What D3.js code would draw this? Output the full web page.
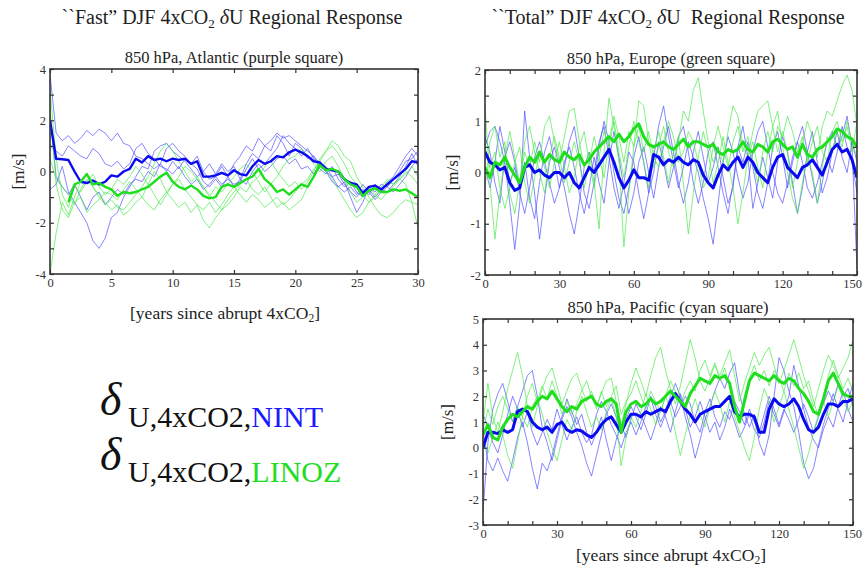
<!DOCTYPE html>
<html>
<head>
<meta charset="utf-8">
<script src="https://cdn.jsdelivr.net/npm/d3@7"></script>
<style>
  html,body{margin:0;padding:0;background:#fff;}
  svg{display:block;font-family:"Liberation Serif","Times New Roman",serif;}
  .tick text{font-family:"Liberation Serif",serif;font-size:12.5px;fill:#333;}
</style>
</head>
<body>
<svg id="chart" width="863" height="569"></svg>
<script>
// ---------------- DATA ----------------
// "Fast" panel: sampled every 0.5 yr from 0 to 30
const yearsFast = d3.range(0, 30.25, 0.5);
const atlBlueMean = [2.0,0.5,0.48,0.45,0.0,-0.4,-0.45,-0.35,-0.5,-0.4,
 -0.15,-0.2,0.0,0.1,0.5,0.35,0.6,0.45,0.5,0.4,
 0.5,0.45,0.5,0.3,0.4,-0.2,-0.2,-0.15,-0.05,-0.15,
 0.05,-0.1,-0.15,0.2,0.45,0.3,0.4,0.6,0.55,0.75,
 0.85,0.75,0.6,0.4,0.35,0.1,0.05,0.0,-0.3,-0.45,
 -0.5,-0.85,-0.6,-0.55,-0.7,-0.5,-0.3,-0.1,0.1,0.4,
 0.35];
const atlGreenMean = [null,null,null,-1.2,-0.5,-0.4,-0.1,-0.5,-0.45,-0.6,
 -0.7,-0.95,-0.8,-0.85,-0.8,-0.7,-0.6,-0.4,-0.2,-0.05,
 -0.4,-0.6,-0.7,-0.55,-0.7,-0.95,-1.05,-1.0,-0.6,-0.5,
 -0.6,-0.45,-0.3,-0.2,0.1,-0.3,-0.5,-0.8,-0.7,-0.9,
 -0.7,-0.5,-0.6,-0.2,0.25,0.05,0.1,0.0,-0.3,-0.5,
 -0.6,-0.95,-0.75,-0.65,-0.8,-0.8,-0.7,-0.75,-0.7,-0.85,
 -1.0];
const atlBlue1 = [3.8,1.5,1.2,1.4,1.1,1.3,1.6,1.4,1.65,1.5,
 1.2,1.5,1.1,1.0,0.6,0.5,0.3,0.1,0.3,0.9,
 1.1,0.8,0.6,0.3,0.1,-0.4,-0.6,-0.3,-0.6,-0.2,
 0.3,0.6,1.0,0.8,1.3,1.0,1.2,1.5,1.3,1.4,
 1.2,1.0,0.8,0.6,0.3,0.2,-0.2,-0.1,-0.5,-0.8,
 -1.0,-0.7,-0.9,-0.5,-0.8,-0.4,-0.2,0.2,0.6,0.9,
 0.6];
const atlBlue2 = [-0.7,-0.5,0.2,-0.8,-1.2,-1.6,-2.0,-2.7,-3.0,-2.6,
 -1.8,-1.6,-1.0,-0.6,-0.2,0.2,0.1,0.8,1.0,1.1,
 0.8,0.6,0.4,0.1,-0.2,0.0,-0.3,-0.2,-0.5,-0.3,
 -0.5,-0.4,0.1,0.5,0.1,0.3,0.6,0.9,1.4,1.1,
 0.9,0.6,0.9,0.5,0.2,0.0,-0.4,-0.6,-0.4,-1.0,
 -1.6,-1.2,-0.6,-0.8,-0.5,-0.6,-0.3,0.0,0.4,0.5,
 0.8];
const atlBlue3 = [1.0,0.8,0.6,1.0,0.8,0.6,0.5,0.9,0.7,0.3,
 0.2,0.4,0.1,0.3,0.9,1.1,0.7,0.5,0.2,0.1,
 -0.1,0.2,-0.2,-0.5,-0.3,-0.7,-0.5,-0.2,0.2,-0.2,
 -0.6,-0.3,0.3,0.7,0.5,1.0,0.8,1.4,1.1,0.6,
 1.1,0.9,0.5,0.6,0.1,-0.1,0.2,-0.3,-0.6,-0.4,
 -0.8,-1.0,-0.7,-1.0,-0.7,-0.8,-0.5,-0.2,0.2,0.7,
 0.2];
const atlBlue4 = [2.2,-0.2,-0.6,-0.9,-0.5,-1.0,-1.5,-1.0,-0.8,-1.3,
 -1.0,-0.7,-0.9,-0.5,-0.3,-0.4,0.0,-0.2,0.3,0.0,
 0.4,0.1,0.5,0.3,0.6,0.0,0.3,-0.1,0.3,0.0,
 0.2,-0.3,-0.5,0.0,0.3,0.0,0.2,0.5,0.6,0.3,
 0.5,0.1,0.2,-0.1,0.3,0.0,-0.2,-0.6,-0.8,-0.6,
 -0.9,-0.5,-0.8,-1.1,-0.8,-0.6,-0.8,-0.5,-0.2,0.2,
 0.5];
const atlGreen1 = [-4.0,-2.4,-1.2,-1.7,-1.0,-0.4,-0.1,-0.6,-0.9,-1.2,
 -1.5,-1.3,-1.7,-1.5,-1.2,-1.0,-0.5,0.0,-0.3,-0.8,
 -1.1,-1.4,-1.2,-1.6,-1.3,-1.9,-2.2,-1.8,-1.5,-1.1,
 -0.8,-0.5,-0.3,-0.7,-0.9,-0.6,-1.0,-1.4,-1.2,-1.5,
 -1.3,-1.1,-0.6,-0.2,0.4,0.8,1.0,0.7,0.3,-0.2,
 -0.5,-0.9,-1.2,-1.0,-0.7,-0.4,-0.5,-0.3,-0.5,-1.2,
 -2.2];
const atlGreen2 = [3.2,0.5,-0.9,-1.4,-0.6,-0.8,-0.4,-0.1,-0.6,-0.9,
 -0.7,-0.3,-0.5,-0.2,0.2,-0.1,-0.5,-0.9,-1.3,-0.9,
 -0.5,-0.2,0.2,0.0,-0.3,-0.6,-0.9,-1.2,-1.5,-1.3,
 -1.0,-0.6,-0.8,-0.4,-0.2,0.2,0.4,0.0,-0.3,-0.6,
 -0.4,-0.7,-0.4,0.0,0.5,0.8,1.2,1.0,0.6,0.4,
 -0.2,-0.6,-1.0,-1.4,-1.7,-1.8,-1.6,-1.3,-1.1,-1.2,
 -1.3];
const atlGreen3 = [0.5,-0.3,-0.6,-0.9,-1.3,-0.7,-0.3,-0.6,-1.0,-1.3,
 -1.1,-1.4,-1.5,-1.2,-0.9,-0.6,-0.2,0.3,0.8,1.1,
 0.8,0.4,0.0,-0.4,-0.2,-0.6,-1.0,-0.6,-0.8,-0.5,
 -0.2,0.1,0.3,0.0,-0.4,-0.8,-0.5,-0.2,0.2,0.5,
 0.6,0.9,0.6,0.3,0.0,0.4,0.6,0.2,-0.3,-0.8,
 -1.2,-1.0,-0.6,-0.9,-0.6,-0.3,-0.5,-0.3,0.0,-0.2,
 -0.5];
const atlGreen4 = [2.5,-0.5,-1.5,-1.8,-1.2,-1.0,-1.6,-1.3,-1.1,-0.8,
 -0.9,-1.1,-0.7,-0.4,-0.7,-1.0,-1.3,-1.5,-1.1,-0.8,
 -0.5,-0.3,-0.7,-1.0,-1.3,-1.5,-1.2,-1.6,-1.3,-0.9,
 -0.6,-0.9,-1.2,-0.9,-1.1,-1.4,-1.2,-1.0,-1.3,-1.1,
 -0.8,-0.5,-0.3,0.1,0.3,0.0,-0.3,-0.7,-1.1,-1.5,
 -1.8,-1.6,-1.2,-0.9,-1.1,-0.8,-0.6,-0.3,-0.1,0.2,
 -0.2];

// "Total" panels: sampled every 2 yr from 0 to 150
const yearsTotal = d3.range(0, 151, 2);
const eurBlueMean = [0.4,0.2,0.15,0.05,0.1,-0.2,-0.35,-0.3,0.1,0.15,
 0.0,0.05,-0.05,-0.1,0.0,0.0,-0.1,0.0,-0.2,-0.3,
 -0.1,0.1,0.0,0.15,0.3,0.45,0.2,-0.1,-0.3,-0.15,
 0.05,-0.1,-0.1,-0.15,0.35,0.3,0.15,0.25,0.2,0.3,
 0.2,0.15,0.25,0.2,-0.05,-0.2,-0.3,-0.05,0.15,0.05,
 0.2,0.3,0.1,0.3,0.2,0.0,-0.1,-0.2,0.1,0.3,
 0.35,0.1,0.0,-0.1,0.1,0.15,0.25,0.1,-0.05,0.2,
 0.45,0.55,0.4,0.45,0.25,-0.1];
const eurGreenMean = [0.1,-0.1,0.2,0.15,0.3,0.1,-0.05,-0.2,0.1,0.3,
 0.2,0.4,0.2,0.35,0.25,0.2,0.4,0.3,0.25,0.35,
 0.15,0.25,0.4,0.5,0.6,0.7,0.6,0.75,0.6,0.7,
 0.85,0.95,0.7,0.55,0.5,0.55,0.6,0.5,0.45,0.55,
 0.65,0.5,0.6,0.6,0.55,0.5,0.55,0.4,0.35,0.45,
 0.4,0.45,0.6,0.45,0.4,0.55,0.5,0.4,0.6,0.65,
 0.55,0.45,0.5,0.3,0.55,0.35,0.3,0.45,0.5,0.6,
 0.7,0.85,0.8,0.7,0.65,0.5];
const eurBlue1 = [0.5,0.8,0.9,0.6,0.2,-0.6,-1.5,-0.6,1.2,0.3,
 -0.4,-1.3,-0.5,0.2,0.5,0.1,-0.3,-0.8,-1.2,-0.6,
 0.1,0.4,0.0,0.6,0.9,0.3,-0.3,-0.7,-0.2,0.4,
 0.2,-0.4,-0.9,-0.4,0.3,0.9,1.3,0.7,0.2,-0.3,
 0.1,0.6,0.3,0.0,-0.5,-0.9,-1.4,-0.6,0.2,0.7,
 0.4,-0.1,-0.5,-0.2,0.4,0.8,1.0,0.5,0.0,-0.4,
 -0.6,-0.2,0.3,0.6,0.2,-0.3,-0.5,-0.2,0.2,0.6,
 0.8,0.5,0.7,1.1,0.5,-1.9];
const eurBlue2 = [0.1,-0.3,0.2,0.9,0.4,-0.2,0.1,-0.4,-0.8,-0.3,
 0.3,0.6,0.2,-0.2,-0.6,-0.3,0.2,0.5,0.1,-0.4,
 -0.8,-0.3,0.3,-0.2,-0.6,0.2,0.8,0.3,-0.3,-0.8,
 -0.4,0.2,0.5,0.0,-0.5,0.1,0.5,0.9,0.4,-0.2,
 -0.6,-0.2,0.4,0.8,0.3,-0.2,0.1,0.5,-0.1,-0.6,
 -0.3,0.5,0.9,0.3,-0.7,-0.2,0.3,-0.1,-0.5,0.2,
 0.7,0.4,-0.2,-0.8,-0.3,0.4,0.8,0.2,-0.4,-0.1,
 0.4,0.8,0.3,0.0,0.6,0.2];
const eurBlue3 = [0.7,0.4,-0.2,-0.6,0.3,0.6,0.2,-0.3,0.2,-0.5,
 -0.9,-0.2,0.4,0.7,0.2,-0.3,0.1,0.6,0.9,0.3,
 -0.4,-0.7,-0.2,0.5,1.0,0.6,0.0,-0.5,-0.8,-0.3,
 0.3,0.7,0.2,-0.4,0.0,0.6,0.2,-0.3,0.1,0.7,
 0.9,0.4,-0.2,-0.6,-0.2,0.4,0.6,0.1,-0.4,-0.8,
 -0.2,0.5,0.2,0.6,0.1,-0.4,-0.7,-0.2,0.5,0.8,
 0.3,-0.3,0.2,0.6,0.9,0.4,-0.1,-0.6,-0.2,0.3,
 0.0,0.4,0.9,0.5,0.2,-0.4];
const eurGreen1 = [1.3,-0.2,-1.3,-0.4,0.3,0.8,0.3,-0.2,0.4,0.1,
 0.6,0.2,0.9,1.1,0.6,0.2,0.7,1.2,1.25,0.6,
 0.1,0.4,-0.2,-1.1,0.4,1.45,0.9,0.2,-1.45,-0.4,
 0.5,1.4,1.3,0.6,0.1,0.5,0.9,0.4,0.1,0.6,
 1.2,1.0,1.6,1.85,1.2,0.6,0.2,0.5,0.2,0.8,
 1.3,1.1,0.5,0.3,0.8,1.2,1.3,1.4,0.9,0.4,
 0.8,0.4,-0.3,0.2,0.6,1.0,0.7,0.3,0.9,1.2,
 1.1,1.4,1.7,1.9,1.6,0.9];
const eurGreen2 = [0.5,0.1,0.4,-0.3,-0.7,-0.3,0.2,0.5,-0.2,-0.6,
 -0.1,0.4,0.1,-0.3,0.2,0.6,0.1,-0.4,-0.1,0.5,
 0.8,0.2,-0.3,0.3,0.8,0.5,1.0,0.4,-0.1,0.5,
 1.0,0.6,0.2,-0.3,0.4,0.8,0.3,-0.2,0.4,0.7,
 -0.2,-1.2,-0.4,0.3,0.8,0.4,-0.2,0.2,0.7,0.2,
 -0.3,-1.0,-0.4,0.3,0.6,0.1,-0.3,0.4,0.9,1.2,
 0.5,0.0,-0.5,-0.8,-0.2,0.3,0.0,-0.6,0.1,0.7,
 0.4,0.8,0.5,1.0,0.6,0.3];
const eurGreen3 = [-0.3,0.6,0.9,0.3,0.6,-0.4,-0.8,-0.2,0.6,0.9,
 0.4,0.0,-0.4,0.3,0.7,0.3,-0.2,0.2,0.6,0.2,
 -0.3,0.2,0.7,0.3,-0.1,0.6,1.1,0.7,0.2,0.8,
 0.5,0.9,0.4,0.8,0.3,0.1,0.6,1.0,0.7,0.2,
 0.4,0.8,0.6,0.2,-0.3,-0.1,0.5,0.9,0.5,0.1,
 0.6,0.9,0.4,0.7,0.2,-0.2,0.4,0.8,0.4,0.9,
 0.7,1.1,0.8,0.4,0.7,0.2,0.6,0.9,0.4,0.2,
 0.8,1.0,0.6,0.9,0.4,1.0];

const pacBlueMean = [0.0,0.6,0.6,0.55,0.7,0.6,0.7,1.4,1.5,1.4,
 1.0,0.8,0.7,0.8,0.6,0.9,1.0,0.7,0.6,0.7,
 0.65,0.5,0.4,0.6,0.9,1.1,1.2,0.9,0.6,1.0,
 1.3,1.3,1.2,1.4,1.3,1.4,1.5,1.4,1.8,2.1,
 1.8,1.5,1.3,1.0,1.3,1.4,1.5,1.6,1.6,1.8,
 2.0,1.4,1.2,1.3,1.3,1.2,0.6,0.6,1.5,1.9,
 1.7,1.6,1.7,1.9,1.6,1.1,0.7,0.6,0.8,1.3,
 1.7,1.7,1.6,1.8,1.8,1.9];
const pacGreenMean = [0.5,0.9,0.4,0.3,0.8,1.1,1.3,1.2,1.4,1.6,
 1.5,1.8,2.0,1.9,2.2,1.9,1.6,1.4,1.6,1.5,
 1.8,1.9,2.0,1.7,1.6,1.8,1.9,1.7,0.6,1.4,
 1.7,1.8,1.6,1.7,1.9,1.7,1.8,2.0,2.2,2.0,
 1.8,1.6,2.1,2.4,2.7,2.6,2.5,2.8,2.7,2.8,
 2.5,1.6,1.0,1.8,2.6,2.9,2.8,2.7,2.6,2.8,
 2.6,2.5,2.7,2.6,2.3,2.1,1.8,1.4,1.3,1.9,
 2.6,2.9,2.5,2.1,2.0,2.0];
const pacBlue1 = [-2.5,0.2,1.5,2.1,2.5,1.8,1.0,1.6,2.2,2.8,
 3.0,2.0,0.8,0.2,-0.5,0.3,1.1,1.6,1.2,0.6,
 0.1,-0.6,-1.1,-0.3,0.5,1.3,1.7,1.2,0.6,1.1,
 1.6,1.2,0.7,1.3,2.0,1.6,1.0,1.4,2.0,2.5,
 2.0,1.2,0.5,-0.4,0.3,1.1,1.6,2.2,2.7,2.3,
 2.9,3.3,2.1,1.3,0.8,1.3,0.2,-0.3,0.5,2.0,
 3.5,3.0,2.2,1.6,0.6,-0.6,-1.2,-0.8,0.1,0.9,
 1.5,2.1,1.5,1.0,1.8,2.5];
const pacBlue2 = [0.6,-0.5,-0.9,-0.4,-0.9,-1.3,-0.5,0.4,1.0,0.2,
 -0.8,-1.6,-0.6,-0.9,-0.3,0.5,1.2,1.9,1.4,0.9,
 1.3,0.6,0.1,0.6,1.2,0.3,-0.5,0.3,0.9,0.4,
 1.1,1.7,1.3,0.8,0.3,0.9,1.6,1.2,0.6,1.4,
 2.1,1.5,0.8,1.2,1.8,1.2,0.6,1.0,0.3,0.8,
 1.5,1.0,0.4,0.8,1.3,0.7,0.4,1.0,1.8,1.3,
 0.8,1.4,2.0,3.2,2.4,1.5,0.8,0.3,0.0,0.7,
 1.2,0.8,1.6,2.2,1.5,1.0];
const pacBlue3 = [1.3,0.8,0.2,-0.2,0.5,1.3,2.0,1.5,0.8,1.4,
 0.6,0.1,0.6,1.1,0.7,1.5,0.9,0.3,0.8,1.2,
 0.6,0.2,0.5,1.3,1.8,1.4,0.9,0.5,0.0,0.6,
 1.0,0.5,1.0,1.6,1.9,1.3,0.8,1.3,1.8,1.2,
 1.6,2.0,1.7,1.0,0.6,1.4,1.9,1.2,0.8,1.4,
 1.1,1.8,1.4,0.9,1.5,1.0,0.6,1.3,2.0,1.5,
 0.9,1.5,1.1,0.6,1.1,1.7,1.2,0.6,1.2,1.7,
 2.2,1.8,2.5,2.0,2.3,1.6];
const pacGreen1 = [1.0,2.5,1.2,0.6,1.4,2.3,3.0,3.7,2.8,1.6,
 0.8,1.6,2.3,2.8,3.1,2.4,1.7,2.2,2.7,2.9,
 2.3,1.8,2.2,1.6,2.1,2.6,2.7,1.8,0.9,1.7,
 2.5,3.1,2.6,2.0,2.8,3.5,3.9,3.0,2.3,1.7,
 2.4,3.3,4.2,3.5,2.6,2.2,2.7,3.2,2.8,3.3,
 3.8,2.8,1.8,2.5,3.1,3.7,3.2,3.6,3.9,3.2,
 2.5,3.0,3.6,4.2,3.5,2.8,2.2,1.6,2.3,3.0,
 3.6,3.2,2.7,3.1,3.5,4.2];
const pacGreen2 = [0.3,-0.2,0.4,1.0,0.5,-0.3,-0.8,0.2,1.2,0.8,
 1.6,2.0,1.3,0.6,0.0,-0.5,0.3,1.1,0.7,1.4,
 2.0,1.4,0.8,1.2,0.7,1.4,1.9,1.2,-0.7,0.4,
 1.2,0.8,1.4,2.1,1.5,0.9,1.4,2.0,1.5,0.6,
 -0.3,0.5,1.3,1.9,1.3,0.8,1.6,2.2,1.7,1.0,
 1.8,1.2,0.6,0.0,-0.5,0.4,1.5,2.3,1.8,1.0,
 1.6,2.2,1.5,0.8,0.0,-0.8,-0.2,0.6,1.3,1.8,
 1.2,1.8,2.4,1.9,1.4,1.8];
const pacGreen3 = [0.7,1.5,0.9,1.6,2.0,1.5,1.0,1.6,1.2,2.0,
 2.5,1.8,2.4,1.9,2.6,2.0,1.3,1.8,1.3,1.7,
 2.2,2.6,2.0,1.5,2.2,1.6,2.0,2.4,1.3,1.8,
 2.1,2.6,2.0,1.5,2.2,1.8,1.4,2.0,2.6,2.2,
 1.7,2.2,2.6,2.2,3.0,3.4,2.8,3.3,2.6,3.1,
 2.4,1.6,1.2,2.0,2.7,3.2,2.6,3.0,2.4,3.0,
 2.7,2.2,2.9,2.4,2.9,2.3,2.6,1.8,1.2,2.0,
 2.8,3.4,2.8,2.3,2.7,2.2];

// tick values
const fastXTicks = [0,5,10,15,20,25,30];
const atlYTicks = [-4,-3,-2,-1,0,1,2,3,4];
const atlYLabels = [-4,-2,0,2,4];
const totalXTicks = d3.range(0, 151, 10);
const totalXLabels = [0,30,60,90,120,150];
const eurYTicks = [-2,-1.5,-1,-0.5,0,0.5,1,1.5,2];
const eurYLabels = [-2,-1,0,1,2];
const pacYTicks = [-3,-2,-1,0,1,2,3,4,5];
const pacYLabels = [-3,-2,-1,0,1,2,3,4,5];

// ---------------- DRAWING ----------------
const svg = d3.select("#chart");
svg.append("rect").attr("width",863).attr("height",569).attr("fill","#fff");

const C = {
  thinBlue:"#4a4aff", thinGreen:"#44e844",
  thickBlue:"#0a0af0", thickGreen:"#1ede1e", frame:"#333"
};
const fmt = d => (d < 0 ? "-" + Math.abs(d) : String(d));

let clipId = 0;
function panel(o){
  const x = d3.scaleLinear().domain(o.xDomain).range([o.x0, o.x1]);
  const y = d3.scaleLinear().domain(o.yDomain).range([o.y1, o.y0]);
  const id = "clip" + (clipId++);
  svg.append("clipPath").attr("id", id).append("rect")
    .attr("x", o.x0).attr("y", o.y0).attr("width", o.x1-o.x0).attr("height", o.y1-o.y0);

  const g = svg.append("g").attr("clip-path", `url(#${id})`);
  const line = d3.line().defined(d => d[1] !== null).x(d => x(d[0])).y(d => y(d[1]));
  const draw = (arr, color, w, op) => g.append("path")
      .datum(arr.map((v,i) => [o.xs[i], v]))
      .attr("d", line).attr("fill","none").attr("stroke", color)
      .attr("stroke-width", w).attr("stroke-opacity", op).attr("stroke-linejoin","round");
  o.thinBlue.forEach(a => draw(a, C.thinBlue, 0.9, 0.75));
  o.thinGreen.forEach(a => draw(a, C.thinGreen, 0.9, 0.75));
  draw(o.meanBlue, C.thickBlue, o.thickW, 1);
  draw(o.meanGreen, C.thickGreen, o.thickW, 1);

  // axes with inward ticks
  const ax = (gen, tr, vals, labels) => {
    const a = svg.append("g").attr("transform", tr)
      .call(gen.tickValues(vals).tickSizeInner(-4).tickSizeOuter(0).tickPadding(4)
        .tickFormat(d => labels && labels.indexOf(d) >= 0 ? fmt(d) : ""));
    a.select(".domain").remove();
    a.selectAll(".tick line").attr("stroke", C.frame).attr("stroke-width", 1.2);
    return a;
  };
  const bx = ax(d3.axisBottom(x), `translate(0,${o.y1})`, o.xTicks, o.xLabels);
  // keep edge labels inside the window
  bx.selectAll(".tick text").each(function(){
    const b = this.getBBox(), m = this.getCTM();
    const right = m.e + b.x + b.width;
    if (right > 862) d3.select(this).attr("dx", (862 - right) + "px");
  });
  ax(d3.axisTop(x), `translate(0,${o.y0})`, o.xTicks, null);
  ax(d3.axisLeft(y), `translate(${o.x0},0)`, o.yTicks, o.yLabels);
  ax(d3.axisRight(y), `translate(${o.x1},0)`, o.yTicks, null);

  svg.append("rect").attr("x", o.x0).attr("y", o.y0)
    .attr("width", o.x1-o.x0).attr("height", o.y1-o.y0)
    .attr("fill","none").attr("stroke", C.frame).attr("stroke-width", 1.6);

  // subtitle
  svg.append("text").attr("x", (o.x0+o.x1)/2).attr("y", o.y0-6)
    .attr("text-anchor","middle").attr("font-size", 16.5).attr("fill","#222").text(o.subtitle);
  // y label
  svg.append("text").attr("transform", `translate(${o.ylabX},${(o.y0+o.y1)/2}) rotate(-90)`)
    .attr("text-anchor","middle").attr("font-size", 17).attr("fill","#222").text("[m/s]");
}

panel({x0:50,x1:418,y0:69,y1:274,xDomain:[0,30],yDomain:[-4,4],xs:yearsFast,
  thinBlue:[atlBlue1,atlBlue2,atlBlue3,atlBlue4], thinGreen:[atlGreen1,atlGreen2,atlGreen3,atlGreen4],
  meanBlue:atlBlueMean, meanGreen:atlGreenMean, thickW:2.4,
  xTicks:fastXTicks, xLabels:fastXTicks, yTicks:atlYTicks, yLabels:atlYLabels,
  subtitle:"850 hPa, Atlantic (purple square)", ylabX:24});

panel({x0:485,x1:857,y0:70,y1:275,xDomain:[0,150],yDomain:[-2,2],xs:yearsTotal,
  thinBlue:[eurBlue1,eurBlue2,eurBlue3], thinGreen:[eurGreen1,eurGreen2,eurGreen3],
  meanBlue:eurBlueMean, meanGreen:eurGreenMean, thickW:3,
  xTicks:totalXTicks, xLabels:totalXLabels, yTicks:eurYTicks, yLabels:eurYLabels,
  subtitle:"850 hPa, Europe (green square)", ylabX:458});

panel({x0:483,x1:853,y0:319,y1:525,xDomain:[0,150],yDomain:[-3,5],xs:yearsTotal,
  thinBlue:[pacBlue1,pacBlue2,pacBlue3], thinGreen:[pacGreen1,pacGreen2,pacGreen3],
  meanBlue:pacBlueMean, meanGreen:pacGreenMean, thickW:3,
  xTicks:totalXTicks, xLabels:totalXLabels, yTicks:pacYTicks, yLabels:pacYLabels,
  subtitle:"850 hPa, Pacific (cyan square)", ylabX:453});

// main titles
function title(xc, yb, pre, post){
  const t = svg.append("text").attr("x", xc).attr("y", yb).attr("text-anchor","middle")
    .attr("font-size", 20).attr("fill","#222").style("white-space","pre");
  t.append("tspan").text(pre + "4xCO");
  t.append("tspan").attr("font-size", 13).attr("dy", 4).text("2");
  t.append("tspan").attr("dy", -4).text(" ");
  t.append("tspan").attr("font-style","italic").text("δ");
  t.append("tspan").text(post);
}
title(232, 24, "``Fast\u201D DJF ", "U Regional Response");
title(668, 24, "``Total\u201D DJF ", "U  Regional Response");

// x labels
function xlabel(xc, yb){
  const t = svg.append("text").attr("x", xc).attr("y", yb).attr("text-anchor","middle")
    .attr("font-size", 17.5).attr("fill","#222");
  t.append("tspan").text("[years since abrupt 4xCO");
  t.append("tspan").attr("font-size", 11.5).attr("dy", 3).text("2");
  t.append("tspan").attr("dy", -3).text("]");
}
xlabel(225, 319);
xlabel(671, 561);

// legend
function legend(yb, name, color){
  svg.append("text").attr("x", 100).attr("y", yb).attr("font-size", 46)
    .attr("font-style","italic").attr("fill","#111").text("δ");
  const t = svg.append("text").attr("x", 128).attr("y", yb+12).attr("font-size", 30).attr("fill","#111");
  t.append("tspan").text("U,4xCO2,");
  t.append("tspan").attr("fill", color).text(name);
}
legend(415, "NINT", "#1a1aff");
legend(470, "LINOZ", "#22dd22");
</script>
</body>
</html>
